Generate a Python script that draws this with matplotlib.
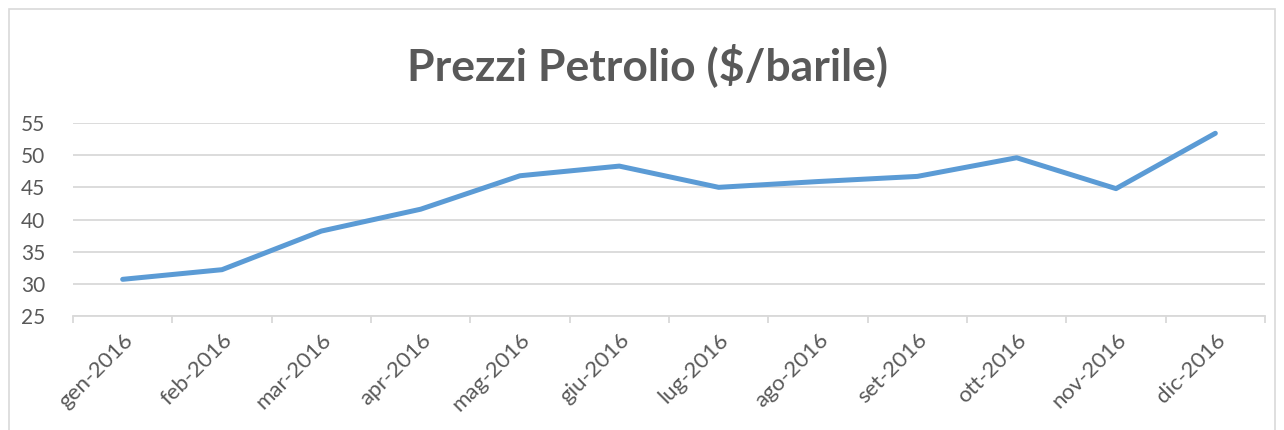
import numpy as np
import matplotlib
matplotlib.use("Agg")
import matplotlib.pyplot as plt
from matplotlib.patches import Rectangle

plt.rcParams["font.family"] = ["Lato", "DejaVu Sans"]

months = ["gen-2016", "feb-2016", "mar-2016", "apr-2016", "mag-2016", "giu-2016",
          "lug-2016", "ago-2016", "set-2016", "ott-2016", "nov-2016", "dic-2016"]
prices = [30.7, 32.2, 38.2, 41.6, 46.8, 48.3, 45.0, 45.9, 46.7, 49.6, 44.8, 53.4]
yticks = [25, 30, 35, 40, 45, 50, 55]

TEXT = "#595959"
GRID = "#d9d9d9"
LINE = "#5b9bd5"

fig = plt.figure(figsize=(12.84, 4.30), dpi=100)
ax = fig.add_axes([73 / 1284, 1 - 316 / 430, (1265 - 73) / 1284, (316 - 123) / 430])

x = np.arange(len(months))
ax.plot(x, prices, color=LINE, linewidth=3.6, solid_capstyle="round", solid_joinstyle="round")

ax.set_xlim(-0.5, len(months) - 0.5)
ax.set_ylim(25, 55)
ax.set_yticks(yticks)
ax.set_yticklabels([str(v) for v in yticks], fontsize=15, color=TEXT)
ax.yaxis.grid(True, color=GRID, linewidth=1.3)
ax.set_axisbelow(True)

ax.set_xticks(x)
ax.set_xticklabels(months, rotation=45, ha="right", rotation_mode="anchor",
                   fontsize=16, color=TEXT)
ax.set_xticks(np.arange(-0.5, len(months)), minor=True)
ax.tick_params(axis="x", which="major", length=0, pad=10)
ax.tick_params(axis="x", which="minor", length=5, color=GRID, width=1.3)
ax.tick_params(axis="y", length=0, pad=20)

for s in ["top", "right", "left"]:
    ax.spines[s].set_visible(False)
ax.spines["bottom"].set_color(GRID)
ax.spines["bottom"].set_linewidth(1.3)

fig.text(0.5 + 6 / 1284, 1 - 65 / 430, "Prezzi Petrolio ($/barile)", ha="center", va="center",
         fontsize=32, fontweight="bold", color=TEXT)

# chart frame
fig.patches.append(Rectangle((9 / 1284, -0.02), 1 - 18 / 1284, 1.0, transform=fig.transFigure,
                             fill=False, edgecolor=GRID, linewidth=1.2))

fig.savefig("out.png", dpi=100)
